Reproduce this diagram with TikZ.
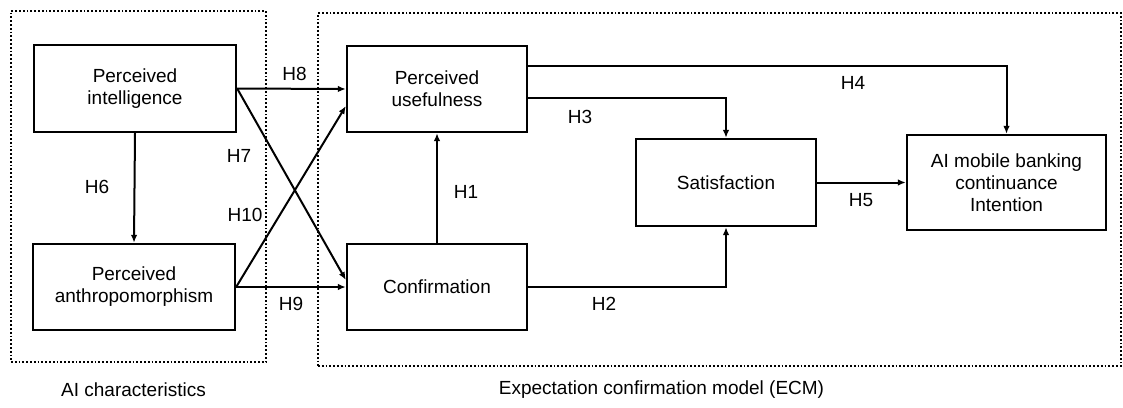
\documentclass[tikz,border=0pt]{standalone}
\usepackage{fontspec}
\setmainfont{Liberation Sans}
\usetikzlibrary{arrows.meta,calc}
\begin{document}
\begin{tikzpicture}[x=1pt,y=-1pt,
  every node/.style={font=\fontsize{19}{22}\selectfont},
  box/.style={draw,line width=2.3pt,align=center,inner sep=0pt},
  grp/.style={draw,line width=1.8pt,dotted,inner sep=0pt},
  arr/.style={line width=2pt,-{Latex[length=8pt,width=6.5pt]}},
  lbl/.style={inner sep=0pt}]
\useasboundingbox (0,0) rectangle (1123,407);
% groups
\node[grp,minimum width=255pt,minimum height=351pt] (g1) at (138.5,186.5) {};
\node[grp,minimum width=803pt,minimum height=353pt] (g2) at (719.5,189.5) {};
% boxes
\node[box,minimum width=202pt,minimum height=87pt] (pi) at (135,88.5) {Perceived\\intelligence};
\node[box,minimum width=202pt,minimum height=86pt] (pa) at (134,287) {Perceived\\anthropomorphism};
\node[box,minimum width=180pt,minimum height=86pt] (pu) at (437,89) {Perceived\\usefulness};
\node[box,minimum width=180pt,minimum height=86pt] (cf) at (437,287) {Confirmation};
\node[box,minimum width=180pt,minimum height=87pt] (sat) at (726,182.5) {Satisfaction};
\node[box,minimum width=199pt,minimum height=95pt] (ai) at (1006.5,182.5) {AI mobile banking\\continuance\\Intention};
% arrows
\draw[arr] (pi.east) -- (pu.west);
\draw[arr] (pi.east) -- ([yshift=7pt]cf.west);
\draw[arr] (pa.east) -- (cf.west);
\draw[arr] (pa.east) -- ([yshift=-17pt]pu.west);
\draw[arr] (pi.south) -- (pa.north);
\draw[arr] (cf.north) -- (pu.south);
\draw[arr] ([yshift=23pt]pu.east) -| (ai.north);
\draw[arr] ([yshift=-9pt]pu.east) -| (sat.north);
\draw[arr] (cf.east) -| (sat.south);
\draw[arr] (sat.east) -- (ai.west);
% labels
\node[lbl] (h8) at (294.5,73.5) {H8};
\node[lbl] (h7) at (239,156) {H7};
\node[lbl] (h10) at (245,215) {H10};
\node[lbl] (h6) at (97,187) {H6};
\node[lbl] (h9) at (291,304) {H9};
\node[lbl] (h1) at (466,192) {H1};
\node[lbl] (h3) at (580,117) {H3};
\node[lbl] (h2) at (604,304) {H2};
\node[lbl] (h4) at (853,83) {H4};
\node[lbl] (h5) at (861,200) {H5};
% captions
\node[lbl] (c1) at (133.5,390) {AI characteristics};
\node[lbl] (c2) at (661.5,390) {Expectation confirmation model (ECM)};
\end{tikzpicture}
\end{document}
